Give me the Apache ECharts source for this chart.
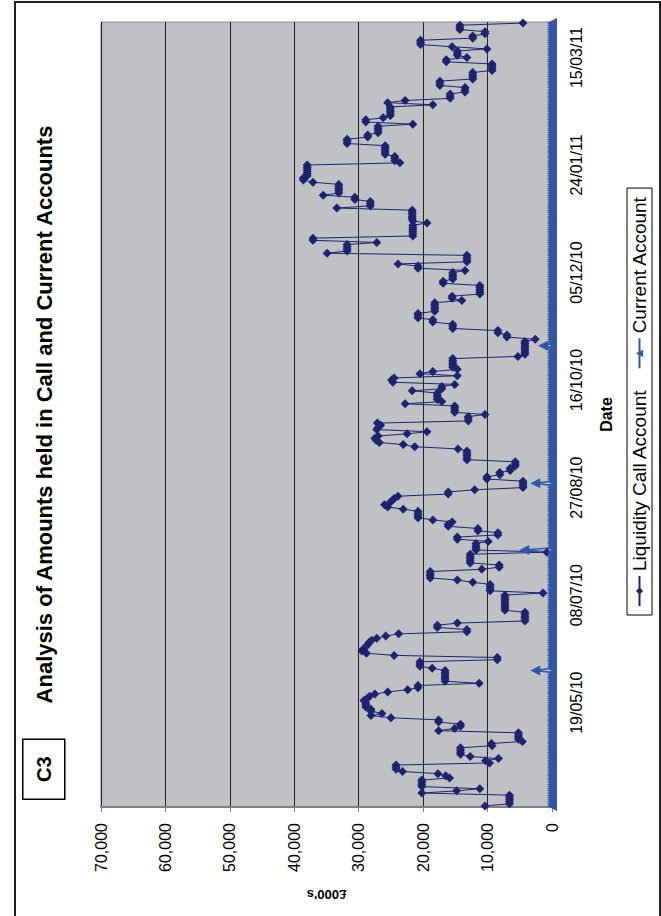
<!DOCTYPE html>
<html>
<head>
<meta charset="utf-8">
<script src="https://cdn.jsdelivr.net/npm/echarts@6/dist/echarts.min.js"></script>
<style>
  html, body { margin: 0; padding: 0; background: #fff; }
  body { width: 661px; height: 916px; overflow: hidden; position: relative; }
  /* the chart is laid out landscape and turned a quarter turn anticlockwise */
  #chart { position: absolute; left: 0; top: 0; width: 916px; height: 661px;
           transform-origin: 0 0; transform: translate(0, 916px) rotate(-90deg); }
  #frame { position: absolute; left: 14px; top: 1px; width: 643px; height: 940px;
           border: 2px solid #231f20; pointer-events: none; }
</style>
</head>
<body>
<div id="chart"></div>
<div id="frame"></div>
<script>
// Daily balances, financial year 2010/11 (£000's)
const firstDay = Date.UTC(2010, 3, 1);
const dayCount = 365;
const dateTicks = ['19/05/10', '08/07/10', '27/08/10', '16/10/10', '05/12/10', '24/01/11', '15/03/11'];

const liqApr = [10400, 6600, 6600, 6600, 6600, 6600, 20200, 14800, 11200, 20200,
  20200, 20200, 20200, 15900, 16500, 17700, 23200, 24200, 24200, 24200,
  9700, 10300, 8300, 12700, 14200, 14200, 14200, 14200, 9300, 9400];
const liqMay = [4600, 5200, 5200, 5200, 5200, 17600, 15100, 14200, 14200, 17600,
  17600, 25000, 28100, 26400, 28100, 28100, 28900, 28900, 28900, 29200,
  28700, 28300, 27500, 25500, 22400, 20800, 20800, 11300, 16600, 16600, 16600];
const liqJun = [16600, 16600, 16600, 18600, 20500, 20500, 20500, 8500, 8500, 24500,
  28800, 29500, 29300, 28900, 28600, 28400, 28000, 27200, 25800, 23800,
  13200, 13200, 17800, 17800, 14700, 4200, 4200, 4200, 4200, 4200];
const liqJul = [7300, 7300, 7300, 7300, 7300, 7300, 7300, 7300, 1400, 9600,
  9600, 9600, 9600, 12300, 14700, 18900, 18900, 18900, 18900, 10900,
  8200, 8200, 12700, 12700, 12700, 12700, 12700, 800, 11800, 11800, 11800];
const liqAug = [11800, 9900, 14700, 14700, 8400, 8400, 11500, 11500, 16100, 16100,
  15500, 18500, 20800, 20800, 20800, 20800, 23100, 25500, 26000, 25200,
  24800, 24500, 23900, 16100, 16100, 12000, 4500, 4500, 4500, 4500, 10100];
const liqSep = [10100, 8100, 8100, 6500, 6500, 5700, 5700, 5700, 13200, 13200,
  13200, 13200, 13200, 14600, 21300, 23100, 26800, 27300, 27500, 27000,
  22500, 19400, 27200, 27000, 26600, 27100, 13000, 13000, 13000, 10400];
const liqOct = [15100, 15100, 15100, 15100, 22800, 17100, 17800, 17800, 17800, 17800,
  21700, 17100, 17100, 15100, 24700, 24900, 24500, 14700, 20500, 18500,
  14700, 15400, 15400, 15400, 15400, 15400, 5300, 4200, 4200, 4200, 4200];
const liqNov = [4200, 4200, 4200, 2600, 7000, 7000, 8400, 8400, 15400, 15400,
  15400, 18500, 18500, 20800, 20800, 20800, 18200, 18200, 18200, 18200,
  18200, 14000, 15500, 15500, 11200, 11200, 11200, 11200, 11200, 16900];
const liqDec = [16900, 15400, 15400, 15400, 15400, 13500, 20800, 20800, 23900, 13200,
  13200, 13200, 13200, 34900, 31800, 31800, 31800, 31800, 27200, 37100,
  37100, 21600, 21600, 21600, 21600, 21600, 21600, 19400, 21600, 21700, 21700];
const liqJan = [21700, 21700, 21700, 33400, 28200, 28200, 28200, 30600, 30600, 35500,
  33100, 33100, 33100, 33100, 33100, 37100, 38600, 38600, 38000, 38000,
  38000, 38000, 38000, 38000, 23600, 24400, 24400, 24400, 25900, 25900, 25900];
const liqFeb = [25900, 25900, 31800, 31800, 31800, 28600, 28600, 27000, 27000, 27000,
  27000, 21600, 28900, 28900, 26200, 25100, 25100, 25100, 25100, 25100,
  18500, 25500, 22800, 15800, 15800, 15800, 13500, 13500];
const liqMar = [13500, 17400, 17400, 17400, 12300, 12300, 12300, 12300, 9300, 9300,
  9300, 9300, 16400, 16400, 13200, 14700, 14700, 14700, 10100, 15500,
  20400, 20400, 20400, 12300, 12300, 10400, 10400, 14300, 14300, 14300, 4500];

const curApr = [0, 0, 0, 0, 0, 0, 0, 0, 0, 0, 0, 0, 0, 0, 0, 0, 0, 0, 0, 0, 0, 0, 0, 0, 0, 0, 0, 0, 0, 0];
const curMay = [0, 0, 0, 0, 0, 0, 0, 0, 0, 0, 0, 0, 0, 0, 0, 0, 0, 0, 0, 0, 0, 0, 0, 0, 0, 0, 0, 0, 0, 0, 0];
const curJun = [0, 0, 2600, 0, 0, 0, 0, 0, 0, 0, 0, 0, 0, 0, 0, 0, 0, 0, 0, 0, 0, 0, 0, 0, 0, 0, 0, 0, 0, 0];
const curJul = [0, 0, 0, 0, 0, 0, 0, 0, 0, 0, 0, 0, 0, 0, 0, 0, 0, 0, 0, 0, 0, 0, 0, 0, 0, 0, 0, 0, 4300, 0, 0];
const curAug = [0, 0, 0, 0, 0, 0, 0, 0, 0, 0, 0, 0, 0, 0, 0, 0, 0, 0, 0, 0, 0, 0, 0, 0, 0, 0, 0, 0, 2600, 0, 0];
const curSep = [0, 0, 0, 0, 0, 0, 0, 0, 0, 0, 0, 0, 0, 0, 0, 0, 0, 0, 0, 0, 0, 0, 0, 0, 0, 0, 0, 0, 0, 0];
const curOct = [0, 0, 0, 0, 0, 0, 0, 0, 0, 0, 0, 0, 0, 0, 0, 0, 0, 0, 0, 0, 0, 0, 0, 0, 0, 0, 0, 0, 0, 0, 0];
const curNov = [1400, 0, 0, 0, 0, 0, 0, 0, 0, 0, 0, 0, 0, 0, 0, 0, 0, 0, 0, 0, 0, 0, 0, 0, 0, 0, 0, 0, 0, 0];
const curDec = [0, 0, 0, 0, 0, 0, 0, 0, 0, 0, 0, 0, 0, 0, 0, 0, 0, 0, 0, 0, 0, 0, 0, 0, 0, 0, 0, 0, 0, 0, 0];
const curJan = [0, 0, 0, 0, 0, 0, 0, 0, 0, 0, 0, 0, 0, 0, 0, 0, 0, 0, 0, 0, 0, 0, 0, 0, 0, 0, 0, 0, 0, 0, 0];
const curFeb = [0, 0, 0, 0, 0, 0, 0, 0, 0, 0, 0, 0, 0, 0, 0, 0, 0, 0, 0, 0, 0, 0, 0, 0, 0, 0, 0, 0];
const curMar = [0, 0, 0, 0, 0, 0, 0, 0, 0, 0, 0, 0, 0, 0, 0, 0, 0, 0, 0, 0, 0, 0, 0, 0, 0, 0, 0, 0, 0, 0, 0];

const liquidity = [].concat(liqApr, liqMay, liqJun, liqJul, liqAug, liqSep,
                            liqOct, liqNov, liqDec, liqJan, liqFeb, liqMar);
const current = [].concat(curApr, curMay, curJun, curJul, curAug, curSep,
                          curOct, curNov, curDec, curJan, curFeb, curMar);

function pad(n) { return (n < 10 ? '0' : '') + n; }
const days = [];
for (let i = 0; i < dayCount; i++) {
  const d = new Date(firstDay + i * 86400000);
  days.push(pad(d.getUTCDate()) + '/' + pad(d.getUTCMonth() + 1) + '/' + String(d.getUTCFullYear()).slice(2));
}

const FONT = "'Liberation Sans', Arial, sans-serif";
const navy = '#1f236f';
const blue = '#3256a8';

// plot box in the landscape layout
const G = { left: 109, right: 22, top: 101, bottom: 109 };
const W = 916, H = 661;
const plotMid = G.left + (W - G.left - G.right) / 2;

const chart = echarts.init(document.getElementById('chart'), null, { renderer: 'svg', width: W, height: H });
chart.setOption({
  animation: false,
  backgroundColor: '#fff',
  textStyle: { fontFamily: FONT, color: '#000' },
  grid: {
    left: G.left, right: G.right, top: G.top, bottom: G.bottom,
    show: true, backgroundColor: '#c0c1c5', borderColor: '#8c8c8c', borderWidth: 1
  },
  legend: {
    bottom: 9, left: 301,
    orient: 'horizontal',
    backgroundColor: '#fff', borderColor: '#000', borderWidth: 1,
    padding: [3, 8], itemGap: 20, itemWidth: 30, itemHeight: 9,
    textStyle: { fontFamily: FONT, fontSize: 19, color: '#000' },
    data: ['Liquidity Call Account', 'Current Account']
  },
  xAxis: {
    type: 'category', data: days, boundaryGap: true,
    axisLine: { show: true, lineStyle: { color: '#555', width: 1 } },
    axisTick: { show: true, interval: 0, length: 4, lineStyle: { color: '#333', width: 1 } },
    axisLabel: {
      interval: (idx, val) => dateTicks.indexOf(val) >= 0,
      margin: 16, fontFamily: FONT, fontSize: 16, color: '#000'
    },
    splitLine: { show: false },
    name: 'Date', nameLocation: 'middle', nameGap: 46,
    nameTextStyle: { fontFamily: FONT, fontSize: 16, fontWeight: 'bold', color: '#000' }
  },
  yAxis: {
    type: 'value', min: 0, max: 70000, interval: 10000,
    axisLine: { show: true, lineStyle: { color: '#7f7f7f', width: 2 } },
    axisTick: { show: true, length: 5, lineStyle: { color: '#7f7f7f', width: 1 } },
    axisLabel: {
      margin: 16, fontFamily: FONT, fontSize: 16, color: '#000',
      formatter: v => v.toLocaleString('en-GB')
    },
    splitLine: { show: true, lineStyle: { color: '#222', width: 1 } },
    name: "£000's", nameLocation: 'middle', nameRotate: 90, nameGap: 81,
    nameTextStyle: { fontFamily: FONT, fontSize: 13, fontWeight: 'bold', color: '#000' }
  },
  graphic: [{
    type: 'text', x: plotMid, y: 33,
    style: { text: 'Analysis of Amounts held in Call and Current Accounts',
             fontFamily: FONT, fontSize: 22, fontWeight: 'bold', fill: '#000',
             align: 'center', verticalAlign: 'top' }
  }, {
    type: 'group', left: 116, top: 22,
    children: [
      { type: 'rect', shape: { x: 0, y: 0, width: 60, height: 42 },
        style: { fill: '#fff', stroke: '#000', lineWidth: 1.5 } },
      { type: 'text', x: 30, y: 21,
        style: { text: 'C3', fontFamily: FONT, fontSize: 20, fontWeight: 'bold',
                 fill: '#000', align: 'center', verticalAlign: 'middle' } }
    ]
  }],
  series: [{
    name: 'Liquidity Call Account', type: 'line', data: liquidity,
    symbol: 'diamond', symbolSize: 9, showAllSymbol: true,
    lineStyle: { color: navy, width: 1 }, itemStyle: { color: navy }
  }, {
    name: 'Current Account', type: 'line', data: current,
    symbol: 'triangle', symbolSize: 10, showAllSymbol: true,
    lineStyle: { color: blue, width: 1.5 }, itemStyle: { color: blue }
  }]
});
</script>
</body>
</html>
